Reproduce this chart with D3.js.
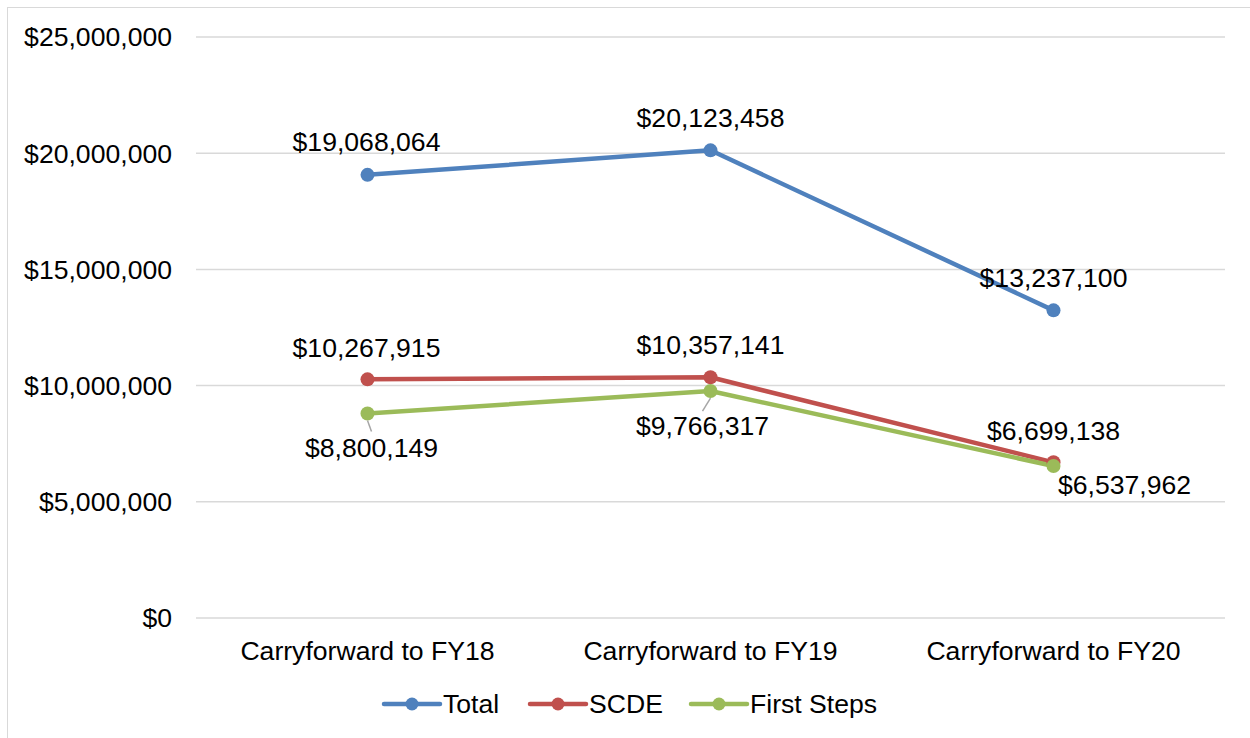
<!DOCTYPE html>
<html><head><meta charset="utf-8">
<script src="https://cdn.jsdelivr.net/npm/d3@7"></script>
<style>body{margin:0;background:#fff}svg{display:block}text{font-family:"Liberation Sans",Arial,sans-serif;fill:#000}</style>
</head><body><svg id="c" width="1250" height="738"></svg>
<script>
const categories = ["Carryforward to FY18","Carryforward to FY19","Carryforward to FY20"];
const seriesNames = ["Total","SCDE","First Steps"];
const totalValues = [19068064, 20123458, 13237100];
const scdeValues = [10267915, 10357141, 6699138];
const firstStepsValues = [8800149, 9766317, 6537962];
const yTicks = [0, 5000000, 10000000, 15000000, 20000000, 25000000];
const colors = ["#4F81BD","#C0504D","#9BBB59"];

const FS = 26.6;
const svg = d3.select("#c");
svg.append("rect").attr("x",7.5).attr("y",7.5).attr("width",1260).attr("height",740).attr("fill","none").attr("stroke","#d9d9d9").attr("stroke-width",1);

const pLeft=196, pRight=1225, pTop=37, pBottom=618;
const x = d3.scalePoint().domain(categories).range([pLeft,pRight]).padding(0.5);
const y = d3.scaleLinear().domain([0,25000000]).range([pBottom,pTop]);
const fmt = v => "$" + d3.format(",")(v);

const grid = svg.append("g");
yTicks.forEach(t=>{
  grid.append("line").attr("x1",pLeft).attr("x2",pRight).attr("y1",y(t)).attr("y2",y(t)).attr("stroke","#d9d9d9").attr("stroke-width",1.5);
  svg.append("text").attr("x",172).attr("y",y(t)).attr("dy","0.35em").attr("text-anchor","end").attr("font-size",FS).text(fmt(t));
});
categories.forEach(c=>{
  svg.append("text").attr("x",x(c)).attr("y",651).attr("dy","0.35em").attr("text-anchor","middle").attr("font-size",FS).text(c);
});

const series = [
  {name:seriesNames[0], values:totalValues, color:colors[0]},
  {name:seriesNames[1], values:scdeValues, color:colors[1]},
  {name:seriesNames[2], values:firstStepsValues, color:colors[2]}
];
const line = d3.line().x((d,i)=>x(categories[i])).y(d=>y(d));
series.forEach(s=>{
  svg.append("path").datum(s.values).attr("d",line).attr("fill","none").attr("stroke",s.color).attr("stroke-width",4.5).attr("stroke-linejoin","round");
});
series.forEach(s=>{
  svg.selectAll(null).data(s.values).enter().append("circle")
    .attr("cx",(d,i)=>x(categories[i])).attr("cy",d=>y(d)).attr("r",7).attr("fill",s.color);
});

// labels: offsets [dx, dy] relative to point (label center)
const labelOffsets = [
  [[-1,-33],[0,-33],[0,-33]],
  [[-1,-32],[0,-33],[0,-32]],
  [[4,34],[-8,35],[71,19]]
];
// leader lines for First Steps
const leaders = [[[0,7],[4,18]],[[0,7],[-8,20]],null];
leaders.forEach((l,i)=>{
  if(!l) return;
  const px=x(categories[i]), py=y(firstStepsValues[i]);
  svg.append("line").attr("x1",px+l[0][0]).attr("y1",py+l[0][1]).attr("x2",px+l[1][0]).attr("y2",py+l[1][1]).attr("stroke","#a6a6a6").attr("stroke-width",1.5);
});
series.forEach((s,si)=>{
  s.values.forEach((v,i)=>{
    const o=labelOffsets[si][i];
    svg.append("text").attr("x",x(categories[i])+o[0]).attr("y",y(v)+o[1]).attr("dy","0.35em").attr("text-anchor","middle").attr("font-size",FS).text(fmt(v));
  });
});

// legend
const legendX=[384,530,691];
series.forEach((s,i)=>{
  const g=svg.append("g").attr("transform",`translate(${legendX[i]},704)`);
  g.append("line").attr("x1",0).attr("x2",56).attr("stroke",s.color).attr("stroke-width",4.5).attr("stroke-linecap","round");
  g.append("circle").attr("cx",28).attr("r",6.5).attr("fill",s.color);
  g.append("text").attr("x",59).attr("dy","0.35em").attr("font-size",FS).text(s.name);
});
</script></body></html>
